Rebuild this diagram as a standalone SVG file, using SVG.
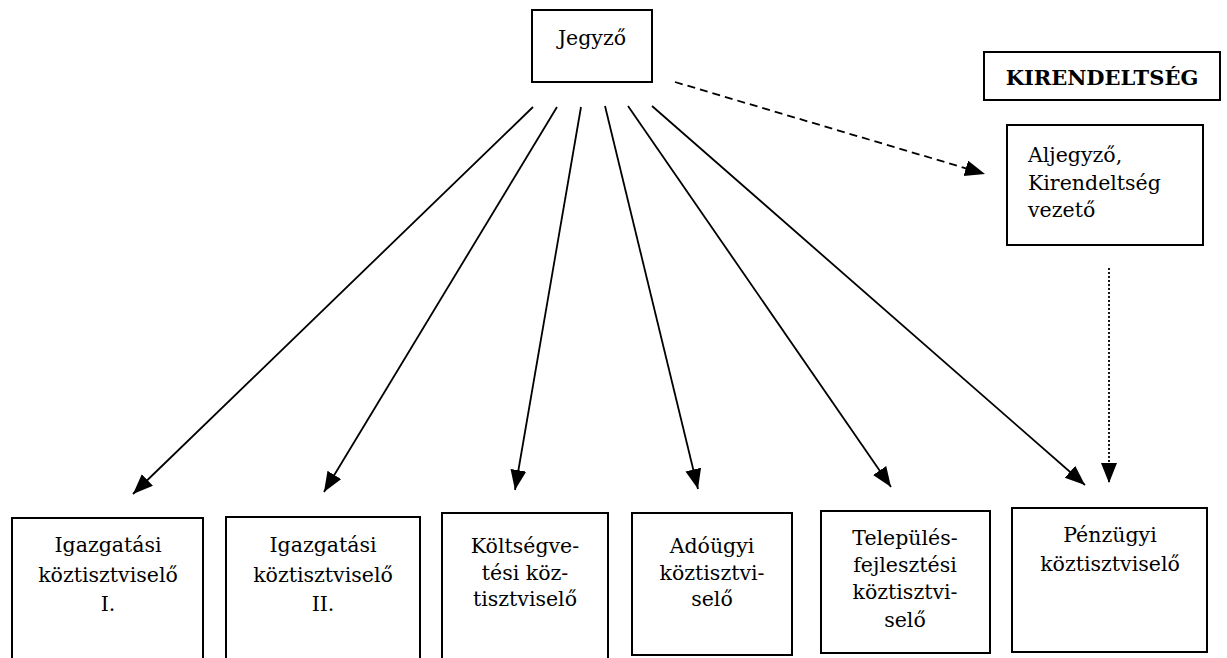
<svg xmlns="http://www.w3.org/2000/svg" width="1227" height="658" viewBox="0 0 1227 658">
<style>
.box{fill:#fff;stroke:#000;stroke-width:2}
.t{font-family:"DejaVu Serif","Liberation Serif",serif;font-size:20.5px;fill:#000}
.c{text-anchor:middle}
.b{font-weight:bold;font-size:21px}
.ln{stroke:#000;stroke-width:1.8;fill:none}
</style>
<defs>
<marker id="ah" markerUnits="userSpaceOnUse" markerWidth="22" markerHeight="18" refX="20" refY="8" orient="auto">
<path d="M0,0 L20,8 L0,16 z" fill="#000"/>
</marker>
</defs>
<rect width="1227" height="658" fill="#fff"/>
<g id="connectors">
<line class="ln" x1="533" y1="107" x2="133" y2="494" marker-end="url(#ah)"/>
<line class="ln" x1="557" y1="107" x2="324" y2="492" marker-end="url(#ah)"/>
<line class="ln" x1="581" y1="107" x2="515" y2="490" marker-end="url(#ah)"/>
<line class="ln" x1="605" y1="106" x2="698" y2="489" marker-end="url(#ah)"/>
<line class="ln" x1="628" y1="106" x2="891" y2="487" marker-end="url(#ah)"/>
<line class="ln" x1="652" y1="106" x2="1085" y2="485" marker-end="url(#ah)"/>
<line class="ln" x1="675" y1="82" x2="985" y2="174" stroke-dasharray="8,5" marker-end="url(#ah)"/>
<line class="ln" x1="1109" y1="268" x2="1109" y2="483" stroke-width="1.5" stroke-dasharray="2,2" marker-end="url(#ah)"/>
</g>
<g id="jegyzo">
<rect class="box" x="532" y="10" width="120" height="72"/>
<text class="t c" x="592" y="45">Jegyző</text>
</g>
<g id="kirendeltseg">
<rect class="box" x="984" y="52" width="236" height="48"/>
<text class="t c b" x="1102" y="85">KIRENDELTSÉG</text>
</g>
<g id="aljegyzo">
<rect class="box" x="1007" y="125" width="196" height="120"/>
<text class="t" x="1028" y="162">Aljegyző,</text>
<text class="t" x="1028" y="190">Kirendeltség</text>
<text class="t" x="1028" y="217">vezető</text>
</g>
<g id="igazgatasi1">
<rect class="box" x="12" y="518" width="191" height="150"/>
<text class="t c" x="108" y="552">Igazgatási</text>
<text class="t c" x="108" y="582">köztisztviselő</text>
<text class="t c" x="108" y="611">I.</text>
</g>
<g id="igazgatasi2">
<rect class="box" x="226" y="517" width="194" height="150"/>
<text class="t c" x="323" y="552">Igazgatási</text>
<text class="t c" x="323" y="582">köztisztviselő</text>
<text class="t c" x="323" y="611">II.</text>
</g>
<g id="koltsegvetesi">
<rect class="box" x="442" y="513" width="166" height="155"/>
<text class="t c" x="525" y="553">Költségve-</text>
<text class="t c" x="525" y="580">tési köz-</text>
<text class="t c" x="525" y="606">tisztviselő</text>
</g>
<g id="adougyi">
<rect class="box" x="632" y="513" width="160" height="142"/>
<text class="t c" x="712" y="553">Adóügyi</text>
<text class="t c" x="712" y="580">köztisztvi-</text>
<text class="t c" x="712" y="606">selő</text>
</g>
<g id="telepules">
<rect class="box" x="821" y="511" width="169" height="142"/>
<text class="t c" x="905" y="545">Település-</text>
<text class="t c" x="905" y="572">fejlesztési</text>
<text class="t c" x="905" y="599">köztisztvi-</text>
<text class="t c" x="905" y="627">selő</text>
</g>
<g id="penzugyi">
<rect class="box" x="1012" y="508" width="195" height="144"/>
<text class="t c" x="1110" y="542">Pénzügyi</text>
<text class="t c" x="1110" y="571">köztisztviselő</text>
</g>
</svg>
